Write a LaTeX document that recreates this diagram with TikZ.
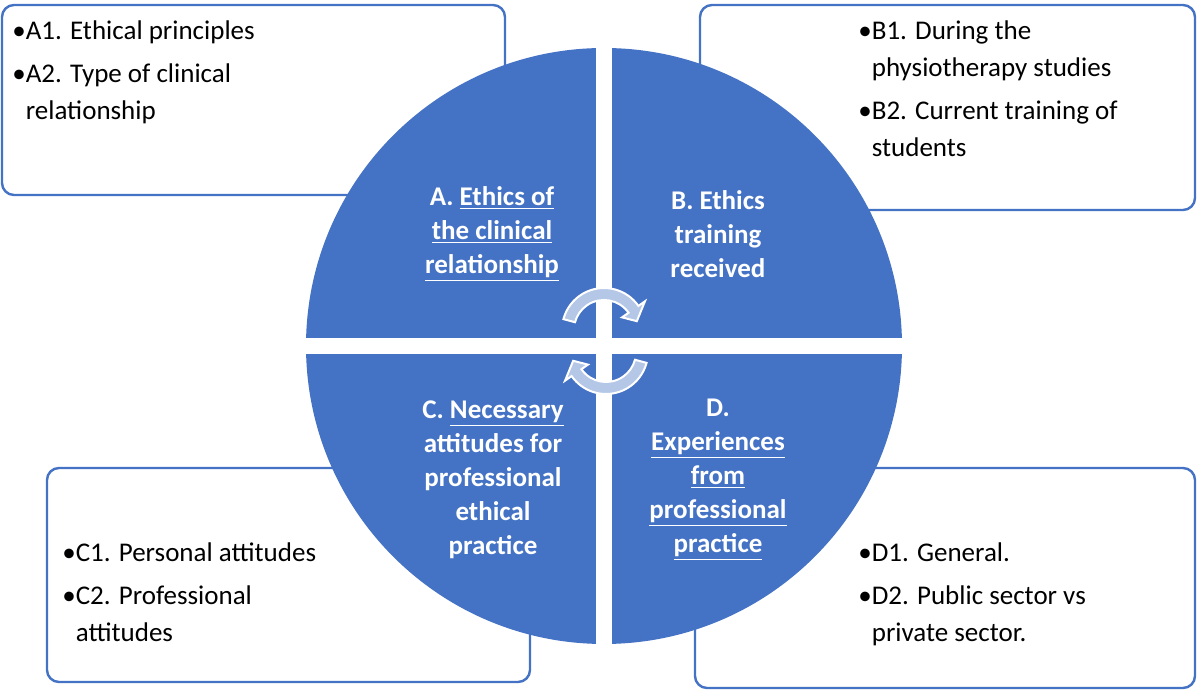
\documentclass[tikz,border=0pt]{standalone}
\usepackage{fontspec}
\setmainfont{Carlito}
\definecolor{quadblue}{HTML}{4472C4}
\definecolor{arrowblue}{HTML}{B4C7E7}
\begin{document}
\begin{tikzpicture}[x=0.5pt, y=0.5pt]
\tikzset{infobox/.style={draw=quadblue, line width=1.2pt, fill=white, rounded corners=6pt}}
\tikzset{itemtext/.style={anchor=north west, align=left, inner sep=0pt, font=\fontsize{13.5}{18.5}\selectfont}}
\tikzset{quadtext/.style={align=center, text=white, inner sep=0pt, font=\bfseries\fontsize{13.5}{17}\selectfont}}
\tikzset{turnarrow/.style={fill=arrowblue, draw=white, line width=1pt}}
\useasboundingbox (0,0) rectangle (1200,690);
% boxes behind the circle
\draw[infobox] (2,685) rectangle (505,495);
\draw[infobox] (700,685) rectangle (1195,480);
\draw[infobox] (47,222) rectangle (530,8);
\draw[infobox] (695,222) rectangle (1195,2);
% circle and its four quadrants
\fill[quadblue] (604,344) circle[radius=149pt];
\draw[white, line width=8pt] (300,344) -- (908,344);
\draw[white, line width=8pt] (604,40) -- (604,648);
% turning arrows
\begin{scope}[shift={(604,360)}]
\filldraw[turnarrow] (165:42) arc[start angle=165, end angle=35, radius=21pt] -- (35:50) -- (15:34) -- (35:22) -- (35:30) arc[start angle=35, end angle=165, radius=15pt] -- cycle;
\end{scope}
\begin{scope}[shift={(606,338)}]
\filldraw[turnarrow] (-15:42) arc[start angle=-15, end angle=-145, radius=21pt] -- (-145:50) -- (-165:34) -- (-145:22) -- (-145:30) arc[start angle=-145, end angle=-15, radius=15pt] -- cycle;
\end{scope}
% quadrant titles
\node[quadtext] (qA) at (492,456) {A. \underline{Ethics of}\\\underline{the clinical}\\\underline{relationship}};
\node[quadtext] (qB) at (718,456) {B. Ethics\\training\\received};
\node[quadtext] (qC) at (493,210) {C. \underline{Necessary}\\attitudes for\\professional\\ethical\\practice};
\node[quadtext] (qD) at (718,210) {D.\\\underline{Experiences}\\\underline{from}\\\underline{professional}\\\underline{practice}};
% box items
\node[itemtext] (itA) at (12,670) {•A1. Ethical principles\\[3pt]•A2. Type of clinical\\\phantom{•}relationship};
\node[itemtext] (itB) at (858,670) {•B1. During the\\\phantom{•}physiotherapy studies\\[3pt]•B2. Current training of\\\phantom{•}students};
\node[itemtext] (itC) at (62,148) {•C1. Personal attitudes\\[3pt]•C2. Professional\\\phantom{•}attitudes};
\node[itemtext] (itD) at (858,148) {•D1. General.\\[3pt]•D2. Public sector vs\\\phantom{•}private sector.};
\end{tikzpicture}
\end{document}
